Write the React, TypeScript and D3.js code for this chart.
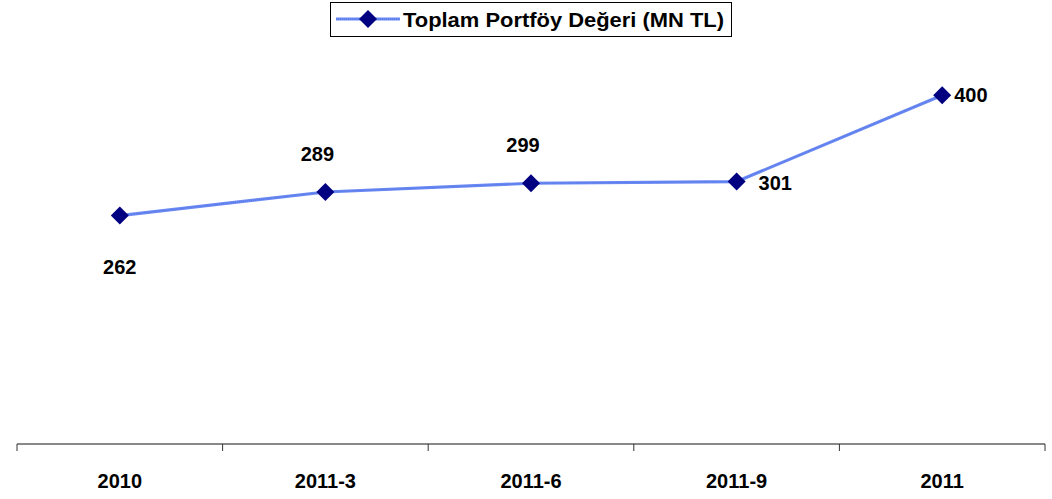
import React from "react";
import * as d3 from "d3";

const categories = ["2010", "2011-3", "2011-6", "2011-9", "2011"];
const values = [262, 289, 299, 301, 400];
const seriesName = "Toplam Portföy Değeri (MN TL)";
// label placement per point: below, above, above, right, right
const labelPos = ["below", "above", "above", "right", "rightNear"];

const W = 1052;
const H = 499;
const FONT = "'Liberation Sans', Arial, sans-serif";

export default function App() {
  const x = d3.scaleBand<string>().domain(categories).range([17, 1045]).padding(0);
  const y = d3.scaleLinear().domain([0, 500]).range([444, 8]);
  const cx = (c: string) => (x(c) as number) + x.bandwidth() / 2;

  const line = d3
    .line<number>()
    .x((_, i) => cx(categories[i]))
    .y((d) => y(d));

  const diamond = (px: number, py: number, r: number) =>
    `M${px},${py - r}L${px + r},${py}L${px},${py + r}L${px - r},${py}Z`;

  const ticks = d3.range(categories.length + 1).map((i) => 17 + i * x.bandwidth());

  return (
    <svg width={W} height={H} style={{ position: "absolute", left: 0, top: 0 }}>
      <rect width={W} height={H} fill="#fff" />
      {/* axis */}
      <line x1={17} x2={1045} y1={y(0)} y2={y(0)} stroke="#888" strokeWidth={2} />
      {ticks.map((t, i) => (
        <line key={i} x1={t} x2={t} y1={y(0)} y2={y(0) + 7} stroke="#333" strokeWidth={1} />
      ))}
      {categories.map((c) => (
        <text
          key={c}
          x={cx(c)}
          y={488}
          textAnchor="middle"
          fontFamily={FONT}
          fontWeight="bold"
          fontSize={20}
          fill="#000"
        >
          {c}
        </text>
      ))}
      {/* series line */}
      <path d={line(values) || ""} fill="none" stroke="#6b8af2" strokeWidth={3.2} />
      <path
        d={line(values) || ""}
        fill="none"
        stroke="#3f60e0"
        strokeWidth={1}
        strokeDasharray="1 1"
        opacity={0.6}
      />
      {values.map((v, i) => (
        <path key={i} d={diamond(cx(categories[i]), y(v), 9)} fill="#000080" />
      ))}
      {values.map((v, i) => {
        const px = cx(categories[i]);
        const py = y(v);
        let tx = px;
        let ty = py;
        let anchor: "middle" | "start" = "middle";
        if (labelPos[i] === "below") {
          tx = px;
          ty = py + 58;
        } else if (labelPos[i] === "above") {
          tx = px - 8;
          ty = py - 31;
        } else if (labelPos[i] === "right") {
          tx = px + 22;
          anchor = "start";
          ty = py + 8;
        } else {
          tx = px + 12;
          anchor = "start";
          ty = py + 7;
        }
        return (
          <text
            key={i}
            x={tx}
            y={ty}
            textAnchor={anchor}
            fontFamily={FONT}
            fontWeight="bold"
            fontSize={20}
            fill="#000"
          >
            {v}
          </text>
        );
      })}
      {/* legend */}
      <rect x={330.5} y={2.5} width={401} height={34} fill="#fff" stroke="#000" strokeWidth={1} />
      <line x1={336} x2={400} y1={19} y2={19} stroke="#6b8af2" strokeWidth={3.2} />
      <line x1={336} x2={400} y1={19} y2={19} stroke="#3f60e0" strokeWidth={1} strokeDasharray="1 1" opacity={0.6} />
      <path d={diamond(368, 19, 9)} fill="#000080" />
      <text
        x={403}
        y={27}
        fontFamily={FONT}
        fontWeight="bold"
        fontSize={21}
        textLength={321}
        lengthAdjust="spacingAndGlyphs"
        fill="#000"
      >
        {seriesName}
      </text>
    </svg>
  );
}
